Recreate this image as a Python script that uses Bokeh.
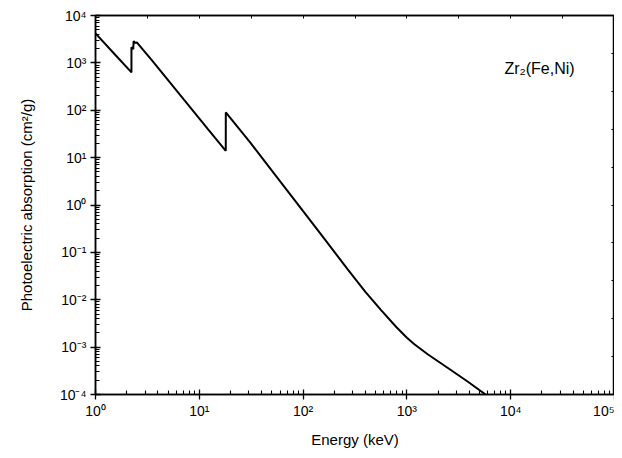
from bokeh.plotting import figure
from bokeh.models import FixedTicker, LogAxis, Label, CustomLabelingPolicy
from bokeh.embed import file_html
from bokeh.resources import INLINE

# Data
energy_kev = [1.0, 1.5, 2.22, 2.22, 2.31, 2.33, 2.39, 2.5, 3.5, 5.0, 7.11, 12.0, 17.99,
              18.0, 25.0, 31.3, 50.0, 100.0, 150.0, 269.0, 400.0, 564.0, 794.0,
              1000.0, 1181.0, 1585.0, 2483.0, 3873.0, 5727.0, 10000.0]
absorption = [4200, 1600, 630, 2150, 1950, 2900, 2650, 2700, 1130, 431, 167, 41, 13.9,
              90, 37, 20.2, 5.3, 0.74, 0.233, 0.044, 0.0145, 0.00605, 0.00263,
              0.00158, 0.00115, 0.000708, 0.000363, 0.000186, 0.0001, 0.000042]

x_decades = [1, 10, 100, 1000, 10000, 100000]
x_labels = ["10⁰", "10¹", "10²", "10³", "10⁴", "10⁵"]
y_decades = [1e-4, 1e-3, 1e-2, 1e-1, 1, 10, 100, 1000, 10000]
y_labels = ["10⁻⁴", "10⁻³", "10⁻²", "10⁻¹", "10⁰", "10¹", "10²", "10³", "10⁴"]
annotation = "Zr₂(Fe,Ni)"

FONT = "Liberation Sans"

p = figure(width=614, height=450, x_axis_type="log", y_axis_type="log",
           x_range=(1, 1e5), y_range=(1e-4, 1e4),
           output_backend="svg", toolbar_location=None,
           min_border_left=95, min_border_right=0, min_border_top=15, min_border_bottom=54)
p.grid.visible = False
p.background_fill_color = "white"
p.outline_line_color = "black"
p.outline_line_width = 1.5

p.line(energy_kev, absorption, line_color="black", line_width=2)

def minors(decades):
    out = []
    for d in decades[:-1]:
        for m in range(2, 10):
            out.append(d * m)
    return out

xa = p.xaxis[0]
xa.ticker = FixedTicker(ticks=x_decades, minor_ticks=minors(x_decades))
xa.major_label_overrides = {v: l for v, l in zip(x_decades, x_labels)}
ya = p.yaxis[0]
ya.ticker = FixedTicker(ticks=y_decades, minor_ticks=minors(y_decades))
ya.major_label_overrides = {v: l for v, l in zip(y_decades, y_labels)}

for ax in (xa, ya):
    ax.axis_line_width = 1.5
    ax.major_tick_line_width = 1.3
    ax.minor_tick_line_width = 1.1
    ax.major_tick_in = 5
    ax.major_tick_out = 5
    ax.minor_tick_in = 4
    ax.minor_tick_out = 0
    ax.major_label_text_font = FONT
    ax.major_label_text_font_size = "14px"
    ax.major_label_text_color = "black"
    ax.axis_label_text_font = FONT
    ax.axis_label_text_font_size = "15px"
    ax.axis_label_text_font_style = "normal"
    ax.axis_label_text_color = "black"

xa.axis_label = "Energy (keV)"
xa.axis_label_standoff = 9
xa.major_label_standoff = 3
ya.axis_label = "Photoelectric absorption (cm²/g)"
ya.axis_label_standoff = 22
ya.major_label_standoff = 4

top_ticks = [10 ** (0.5 * k) for k in range(1, 10)]
right_ticks = [10 ** (-4 + 0.8 * k) for k in range(1, 10)]
hide_all = "for (const i of indices) indices.unset(i)"
top = LogAxis(ticker=FixedTicker(ticks=top_ticks, minor_ticks=[]),
              major_label_policy=CustomLabelingPolicy(code=hide_all))
right = LogAxis(ticker=FixedTicker(ticks=right_ticks, minor_ticks=[]),
                major_label_policy=CustomLabelingPolicy(code=hide_all))
for ax in (top, right):
    ax.major_label_text_font_size = "0px"
    ax.major_tick_in = 3
    ax.major_tick_out = 0
    ax.minor_tick_in = 0
    ax.minor_tick_out = 0
    ax.axis_line_width = 1.5
    ax.major_label_standoff = 0
p.add_layout(top, "above")
p.add_layout(right, "right")

p.add_layout(Label(x=8700, y=770, text=annotation, text_font=FONT,
                   text_font_size="16px", text_color="black",
                   text_baseline="alphabetic", text_align="left"))

open("out.html", "w").write(file_html(p, INLINE))
